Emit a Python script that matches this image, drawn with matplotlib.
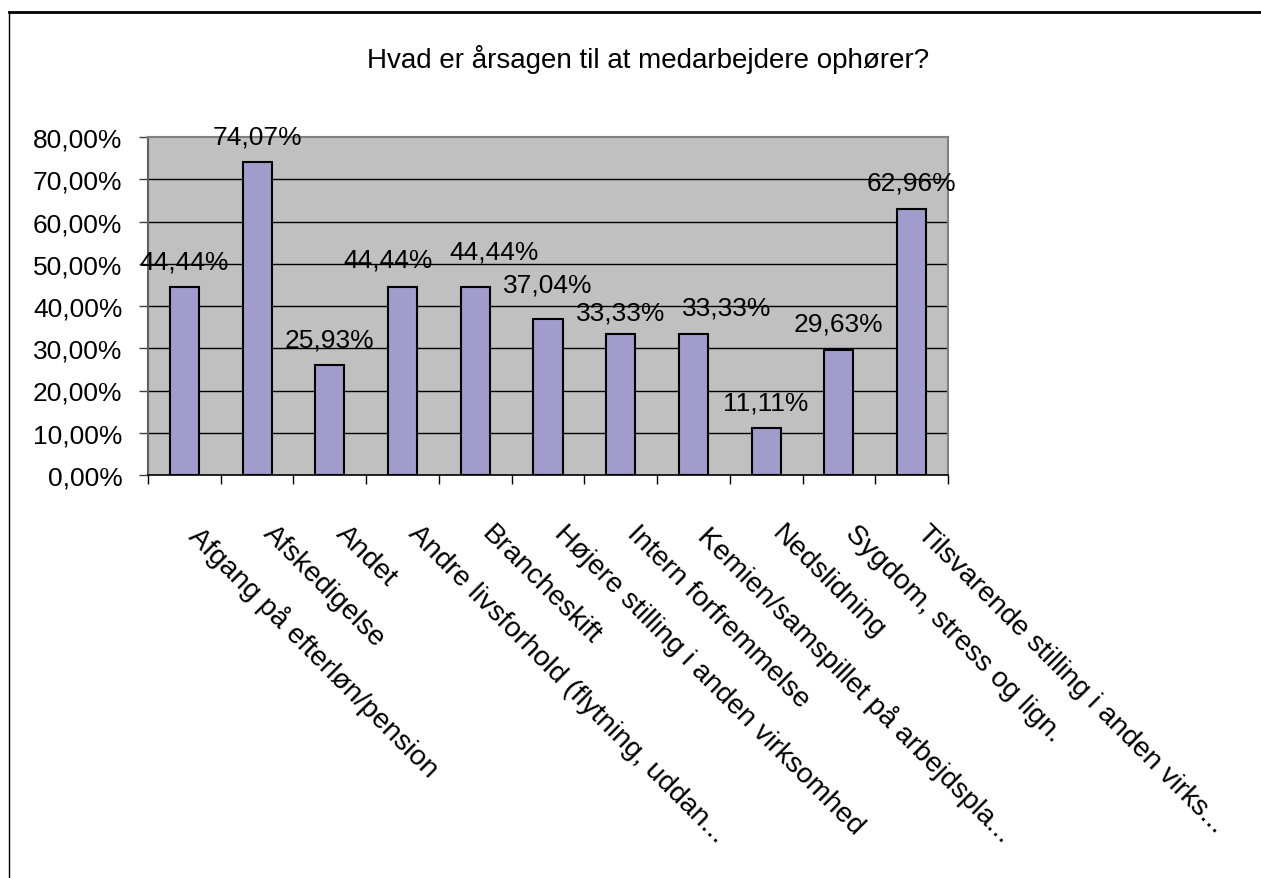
import matplotlib
matplotlib.use("Agg")
import matplotlib.pyplot as plt
from matplotlib import font_manager
from matplotlib.lines import Line2D
import numpy as np

# Excel renders Arial tall and narrow here; the narrow Liberation cut matches best
installed = {f.name for f in font_manager.fontManager.ttflist}
if "Liberation Sans Narrow" in installed:
    FONT, SCALE = "Liberation Sans Narrow", 1 / 0.82
else:
    FONT, SCALE = "Liberation Sans", 1.0
plt.rcParams.update({
    "font.family": [FONT, "DejaVu Sans"],
    "font.size": 19 * SCALE,
})

# data
categories = [
    "Afgang på efterløn/pension",
    "Afskedigelse",
    "Andet",
    "Andre livsforhold (flytning, uddan...",
    "Brancheskift",
    "Højere stilling i anden virksomhed",
    "Intern forfremmelse",
    "Kemien/samspillet på arbejdspla...",
    "Nedslidning",
    "Sygdom, stress og lign.",
    "Tilsvarende stilling i anden virks...",
]
values = [44.44, 74.07, 25.93, 44.44, 44.44, 37.04, 33.33, 33.33, 11.11, 29.63, 62.96]
yticks = [0, 10, 20, 30, 40, 50, 60, 70, 80]
title = "Hvad er årsagen til at medarbejdere ophører?"

# label nudges (px) where Excel moved labels apart
nudge = {3: (-14, 2), 4: (19, 10), 5: (0, 8), 6: (0, -4), 7: (33, 1)}

W, H = 1261, 879
fig = plt.figure(figsize=(W / 100, H / 100), dpi=100)
fig.patch.set_facecolor("white")

# plot area in pixels: x 148..948, y 138..476
ax = fig.add_axes([148 / W, 1 - 476 / H, 800 / W, 338 / H])
ax.set_facecolor("#C0C0C0")

x = np.arange(len(categories))
ax.bar(x, values, width=0.4, color="#A29CCC", edgecolor="black", linewidth=1.5, zorder=3)

ax.set_xlim(-0.5, len(categories) - 0.5)
ax.set_ylim(0, 80)

# gridlines
for t in yticks[1:-1]:
    ax.axhline(t, color="black", linewidth=1, zorder=1)

ax.set_yticks(yticks)
ax.set_yticklabels(["%d,00%%" % t for t in yticks])
ax.tick_params(axis="y", length=6.5, width=1, color="#404040", pad=12, labelsize=19 * SCALE)

# category boundary ticks on the x axis
ax.set_xticks(np.arange(len(categories) + 1) - 0.5)
ax.set_xticklabels([])
ax.tick_params(axis="x", length=6.5, width=1, color="black")

for s in ["top", "right"]:
    ax.spines[s].set_color("#808080")
    ax.spines[s].set_linewidth(1.5)
ax.spines["left"].set_color("#606060")
ax.spines["left"].set_linewidth(1.5)
ax.spines["bottom"].set_color("black")
ax.spines["bottom"].set_linewidth(1.2)

px = 72 / 100  # points per pixel

# value labels above bars
for i, v in enumerate(values):
    dx, dy = nudge.get(i, (0, 0))
    ax.annotate(("%.2f" % v).replace(".", ",") + "%",
                xy=(x[i], v), xytext=(dx * px, (26 + dy) * px), textcoords="offset points",
                ha="center", va="center", fontsize=19 * SCALE, zorder=4)

# rotated category labels
for xi, lab in zip(x, categories):
    ax.annotate(lab, xy=(xi, 0), xycoords=("data", "axes fraction"),
                xytext=(19 * px, -45 * px), textcoords="offset points",
                rotation=-45, rotation_mode="anchor", ha="left", va="top",
                fontsize=20.4 * SCALE)

fig.text(648 / W, 1 - 60 / H, title, ha="center", va="center", fontsize=20 * SCALE)

# chart frame (only top and left edges are visible in the crop)
fig.add_artist(Line2D([9 / W, 1], [1 - 13 / H, 1 - 13 / H], color="black", linewidth=2,
                      transform=fig.transFigure))
fig.add_artist(Line2D([9 / W, 9 / W], [0, 1 - 13 / H], color="black", linewidth=1,
                      transform=fig.transFigure))

fig.savefig("out.png", dpi=100)
